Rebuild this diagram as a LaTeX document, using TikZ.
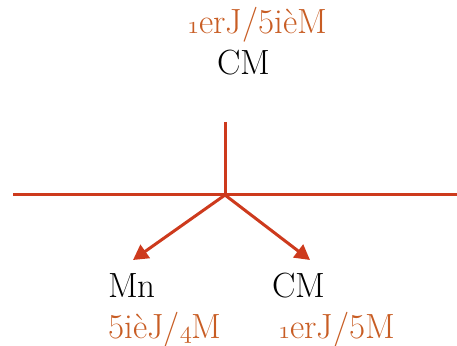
\documentclass[tikz,border=0pt]{standalone}
\usetikzlibrary{arrows.meta}
\definecolor{linered}{HTML}{CD3A1D}
\definecolor{txtorange}{HTML}{C85D24}
\newcommand{\osn}[1]{{\usefont{OML}{lmm}{m}{it}#1}}
\tikzset{
  lbl/.style={anchor=base west, inner sep=0pt, font=\fontsize{35}{40}\selectfont},
  sub/.style={lbl, text=txtorange},
  redline/.style={draw=linered, line width=3pt},
  redarrow/.style={redline, -{Triangle[length=15pt,width=16pt]}}
}
\begin{document}
\begin{tikzpicture}[x=1pt,y=1pt]
\useasboundingbox (0,0) rectangle (457,345);
% labels
\node[sub] (topsub) at (187,311) {\osn{1}erJ/5ièM};
\node[lbl] (topmain) at (217,270) {CM};
\node[lbl] (leftmain) at (108,48) {Mn};
\node[lbl] (rightmain) at (272,48) {CM};
\node[sub] (leftsub) at (108,7) {5ièJ/\osn{4}M};
\node[sub] (rightsub) at (278,7) {\osn{1}erJ/5M};
% lines
\coordinate (west) at (13,150);
\coordinate (east) at (457,150);
\coordinate (stem) at (225,223);
\coordinate (junc) at (225,150);
\coordinate (ltip) at (133,85);
\coordinate (rtip) at (310,85);
\draw[redline] (west) -- (east);
\draw[redline] (stem) -- (junc);
\draw[redarrow] (junc) -- (ltip);
\draw[redarrow] (junc) -- (rtip);
\end{tikzpicture}
\end{document}
